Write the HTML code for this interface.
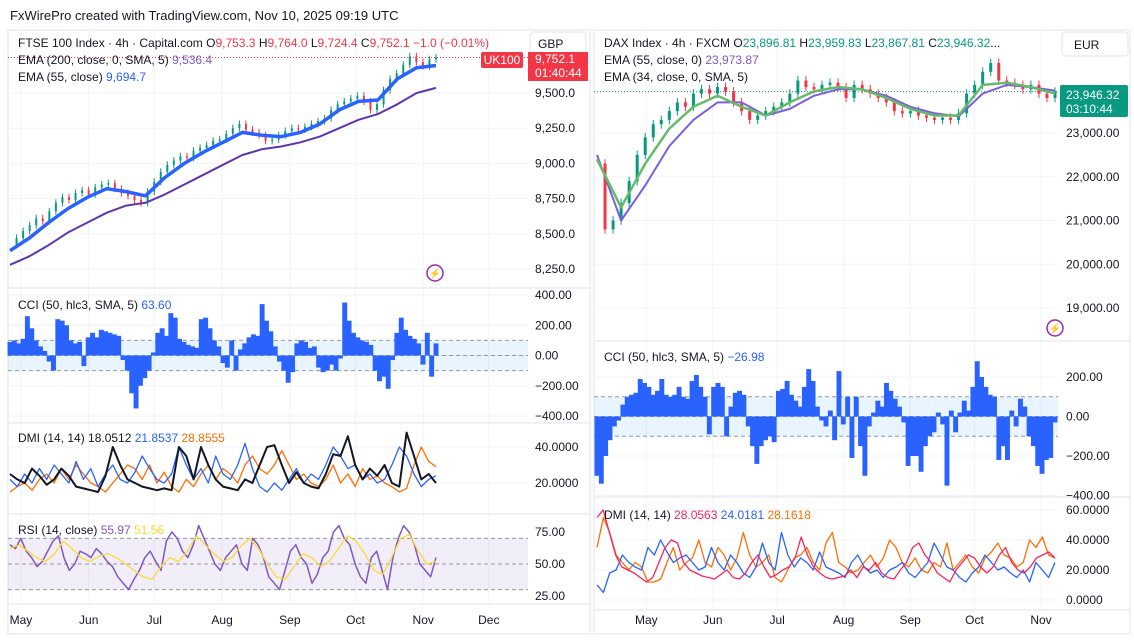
<!DOCTYPE html>
<html><head><meta charset="utf-8">
<style>
html,body{margin:0;padding:0;background:#fff;}
body{width:1134px;height:639px;overflow:hidden;font-family:"Liberation Sans",sans-serif;}
svg text{font-family:"Liberation Sans",sans-serif;}
</style></head>
<body>
<svg id="c" width="1134" height="639" viewBox="0 0 1134 639" xmlns="http://www.w3.org/2000/svg">
<rect x="0" y="0" width="1134" height="639" fill="#fff"/>
<text x="10" y="20" font-size="13" fill="#131722">FxWirePro created with TradingView.com, Nov 10, 2025 09:19 UTC</text>
<rect x="8" y="30" width="582" height="604" fill="none" stroke="#e0e3eb"/>
<rect x="594" y="30" width="536" height="604" fill="none" stroke="#e0e3eb"/>
<g id="grid"></g>
<g id="marks"></g>
<g id="labels"></g>
</svg>
<script>
// ---------- LEFT (FTSE) DATA ----------
const ftseClose = [8420,8470,8520,8560,8610,8590,8660,8720,8760,8740,8790,8810,8780,8830,8850,8860,8820,8790,8770,8740,8720,8800,8870,8940,8990,9020,9050,9040,9090,9110,9130,9160,9170,9210,9250,9280,9240,9220,9200,9160,9170,9200,9230,9250,9240,9260,9280,9300,9320,9380,9420,9440,9460,9480,9440,9380,9420,9520,9600,9640,9700,9760,9720,9690,9740,9752];
const ftseEma55 = [8380,8470,8580,8680,8760,8820,8800,8770,8900,9000,9080,9150,9220,9200,9190,9220,9280,9380,9440,9450,9600,9680,9695];
const ftseEma200 = [8280,8340,8420,8510,8580,8650,8700,8720,8780,8850,8920,8990,9060,9100,9120,9150,9190,9250,9310,9350,9420,9500,9536];
const ftseCci = [90,100,80,110,260,180,100,60,30,-40,-100,240,230,200,100,80,90,-70,120,150,120,170,160,150,140,130,-30,-100,-250,-350,-200,-150,-100,20,150,180,130,280,250,110,90,70,60,50,240,250,180,100,60,-50,-80,100,-100,40,80,120,140,130,340,230,160,60,-40,-100,-180,-110,80,100,90,50,60,-80,-110,-100,-60,-100,-20,350,230,150,120,100,90,70,-100,-170,-140,-220,-30,150,250,170,130,110,80,-60,150,-140,80];
const ftseAdx = [25,22,20,28,24,19,22,28,24,18,17,16,15,24,40,30,22,20,18,17,16,17,16,40,35,22,40,30,22,18,17,16,22,20,30,40,41,30,20,26,20,18,17,25,36,35,46,30,22,28,24,30,20,18,48,35,22,25,20];
const ftseDiPlus = [22,18,25,20,28,22,30,25,20,32,22,28,18,25,30,22,20,26,35,28,22,20,25,40,30,22,28,20,35,25,22,30,42,28,18,15,20,16,22,28,20,25,22,30,40,35,28,30,22,25,20,22,30,40,35,25,18,22,24];
const ftseDiMinus = [15,18,20,16,22,25,20,28,22,30,25,20,18,15,20,25,30,28,22,30,20,26,18,15,22,18,25,30,22,28,25,20,30,35,28,25,30,38,30,22,25,20,18,22,30,20,25,18,28,22,24,20,18,15,17,30,40,32,29];
const ftseRsi = [65,62,70,60,55,48,52,60,68,72,55,45,50,60,58,55,62,58,52,48,40,35,30,38,45,55,60,52,45,68,75,70,60,55,65,80,70,60,50,45,55,60,65,50,45,70,65,55,40,35,30,45,60,65,55,50,35,42,55,60,75,80,70,65,50,40,35,55,60,45,30,55,70,80,75,65,50,45,40,55];
const ftseRsiMa = [62,65,60,55,52,58,68,62,55,52,56,58,55,50,45,40,38,48,55,52,60,72,65,58,52,55,64,70,62,50,40,38,48,58,55,48,52,62,72,68,58,45,42,55,70,73,60,50,52];
const ftsePriceTicks = [9500,9250,9000,8750,8500,8250];
const ftseCciTicks = [400,200,0,-200,-400];
const ftseDmiTicks = [40,20];
const ftseRsiTicks = [75,50,25];
const leftMonths = ["May","Jun","Jul","Aug","Sep","Oct","Nov","Dec"];
const leftMonthDays = [5,36,66,97,128,158,189,219];

// ---------- RIGHT (DAX) DATA ----------
const daxClose = [22300,20800,21000,21400,21900,22500,22900,23200,23300,23500,23700,23600,23900,24000,23900,24050,23950,23700,23500,23300,23400,23500,23600,23700,23900,24200,24050,24000,24100,24150,24050,23800,24100,24000,23900,23800,23700,23500,23450,23500,23400,23350,23300,23350,23300,23450,23900,24100,24400,24600,24200,24150,24100,24000,24100,23900,23800,23946];
const daxEma34 = [22400,21300,22300,23100,23600,23850,23600,23400,23700,23950,24050,24000,23800,23550,23400,23400,24100,24150,24050,23900];
const daxEma55 = [22500,21000,21800,22700,23300,23700,23700,23400,23550,23850,24000,24000,23850,23600,23450,23380,23900,24100,24050,23970];
const daxCci = [-300,-340,-200,-120,-50,-20,60,100,110,120,190,170,150,110,130,190,110,100,110,150,100,90,180,210,150,100,-90,150,170,150,-100,50,120,130,110,-50,-150,-240,-150,-120,-100,-130,130,140,180,110,80,50,150,240,180,50,-20,-50,30,-120,230,-40,100,-210,100,-150,-300,-50,20,80,50,170,130,90,50,-30,-250,-200,-200,-280,-150,-100,-80,20,-40,-350,30,-80,20,80,30,150,280,200,150,110,100,-220,-150,-220,30,-50,90,50,-100,-150,-250,-290,-220,-210,-30];
const daxAdx = [55,60,45,30,22,20,18,15,12,15,25,35,40,38,25,20,18,16,15,14,17,20,15,14,18,25,30,22,15,17,20,22,28,42,30,22,18,15,14,15,16,20,15,22,20,25,18,15,14,20,25,35,38,30,25,18,15,12,20,25,30,28,22,18,22,30,35,25,20,18,22,28,30,32,28];
const daxDiPlus = [10,5,18,20,30,25,22,20,35,30,40,32,25,28,30,25,20,22,35,25,20,30,25,18,15,22,38,25,20,45,30,22,28,25,20,32,22,20,18,15,25,30,22,18,20,15,20,22,25,18,15,20,25,38,30,22,20,15,12,18,22,30,25,20,22,18,15,20,12,25,20,15,25];
const daxDiMinus = [35,55,45,30,25,20,25,22,12,12,14,25,35,20,25,28,40,25,22,35,30,20,28,45,30,22,25,30,15,12,20,28,30,35,25,20,38,45,25,22,18,20,25,30,22,28,40,35,25,22,28,20,18,25,22,38,20,25,30,22,18,28,32,38,30,28,22,25,40,35,42,30,28];
const daxPriceTicks = [23000,22000,21000,20000,19000];
const daxCciTicks = [200,0,-200,-400];
const daxDmiTicks = [60,40,20,0];
const rightMonths = ["May","Jun","Jul","Aug","Sep","Oct","Nov"];
const rightMonthDays = [23,54,84,115,146,176,207];

// ---------- AXES ----------
const NS = "http://www.w3.org/2000/svg";
const gGrid = document.getElementById('grid');
const gMarks = document.getElementById('marks');
const gLab = document.getElementById('labels');
function lin(d0,d1,r0,r1){return v=>r0+(v-d0)*(r1-r0)/(d1-d0);}
function mk(tag,attrs,parent){const e=document.createElementNS(NS,tag);for(const k in attrs)e.setAttribute(k,attrs[k]);(parent||gMarks).appendChild(e);return e;}
function txt(x,y,s,attrs,parent){const e=mk('text',Object.assign({x:x,y:y,'font-size':12,fill:'#131722'},attrs||{}),parent||gLab);e.textContent=s;return e;}

const LX0=10, LX1=436;
const lxDay = lin(0,220,10,491);
const lyP = lin(9500,8250,93,269);
const lyC = lin(400,-400,295,416);
const lyD = lin(40,20,447,483);
const lyR = lin(75,25,532,596);
const RX0=597, RX1=1055;
const rxDay = lin(0,207,597,1041);
const ryP = lin(23000,19000,133,308);
const ryC = lin(200,-200,377,456);
const ryD = lin(60,0,510,600);

function xs(n,a,b){return i=> a+(b-a)*i/(n-1);}
function poly(arr,xf,yf,color,w,name){
  const pts=arr.map((v,i)=>xf(i).toFixed(1)+','+yf(v).toFixed(1)).join(' ');
  const p=mk('polyline',{points:pts,fill:'none',stroke:color,'stroke-width':w,'stroke-linejoin':'round'});
  
  
  return p;
}
function hline(x0,x1,y,color,dash,name){
  const l=mk('line',{x1:x0,x2:x1,y1:y,y2:y,stroke:color,'stroke-width':1},gGrid);
  if(dash)l.setAttribute('stroke-dasharray',dash);
  
  
}
function vline(x,y0,y1,name){
  const l=mk('line',{x1:x,x2:x,y1:y0,y2:y1,stroke:'#f0f3fa','stroke-width':1},gGrid);
  
  
}

leftMonthDays.forEach((d,i)=>{vline(lxDay(d),30,604,'left-month-grid');});
rightMonthDays.forEach((d,i)=>{vline(rxDay(d),30,610,'right-month-grid');});
ftsePriceTicks.forEach(v=>hline(8,528,lyP(v),'#f0f3fa',null,'left-price-grid'));
ftseCciTicks.forEach(v=>hline(8,528,lyC(v),'#f0f3fa',null,'left-cci-grid'));
ftseDmiTicks.forEach(v=>hline(8,528,lyD(v),'#f0f3fa',null,'left-dmi-grid'));
daxPriceTicks.forEach(v=>hline(594,1058,ryP(v),'#f0f3fa',null,'right-price-grid'));
daxCciTicks.forEach(v=>hline(594,1058,ryC(v),'#f0f3fa',null,'right-cci-grid'));
daxDmiTicks.forEach(v=>hline(594,1058,ryD(v),'#f0f3fa',null,'right-dmi-grid'));
[288,423,514,604].forEach(y=>hline(8,590,y,'#e0e3eb',null,'left-pane-separator'));
[341,497,610].forEach(y=>hline(594,1130,y,'#e0e3eb',null,'right-pane-separator'));
let b=mk('rect',{x:8,y:lyC(100),width:520,height:lyC(-100)-lyC(100),fill:'rgba(33,150,243,0.1)'},gGrid);


b=mk('rect',{x:8,y:lyR(70),width:520,height:lyR(30)-lyR(70),fill:'rgba(126,87,194,0.1)'},gGrid);


b=mk('rect',{x:594,y:ryC(100),width:464,height:ryC(-100)-ryC(100),fill:'rgba(33,150,243,0.1)'},gGrid);


[100,0,-100].forEach(v=>hline(8,528,lyC(v),'#9598a1','4,3','left-cci-level'));
[70,50,30].forEach(v=>hline(8,528,lyR(v),'#9598a1','4,3','left-rsi-level'));
[100,0,-100].forEach(v=>hline(594,1058,ryC(v),'#9598a1','4,3','right-cci-level'));
hline(8,528,lyP(9752),'#f23645','1,2','left-last-price-line');
hline(594,1058,ryP(23946),'#089981','1,2','right-last-price-line');

function candles(arr,xf,yf,w,wick,name){
  for(let i=1;i<arr.length;i++){
    const o=arr[i-1],c=arr[i],up=c>=o,col=up?'#089981':'#f23645';
    const x=xf(i);
    const hi=Math.max(o,c)+wick, lo=Math.min(o,c)-wick;
    const l=mk('line',{x1:x,x2:x,y1:yf(hi),y2:yf(lo),stroke:col,'stroke-width':1});
    
    
    const y0=yf(Math.max(o,c)), y1=yf(Math.min(o,c));
    const r=mk('rect',{x:x-w/2,y:y0,width:w,height:Math.max(1,y1-y0),fill:col});
    
    
  }
}
const lxC = xs(ftseClose.length,LX0,LX1);
candles(ftseClose,lxC,lyP,2,25,'ftse-candle');
poly(ftseEma200,xs(ftseEma200.length,LX0,LX1),lyP,'#5e35b1',2,'ftse-ema200-line');
poly(ftseEma55,xs(ftseEma55.length,LX0,LX1),lyP,'#2962ff',3.5,'ftse-ema55-line');

const rxC = xs(daxClose.length,RX0,RX1);
candles(daxClose,rxC,ryP,3,100,'dax-candle');
poly(daxEma55,xs(daxEma55.length,RX0,RX1),ryP,'#7b5fe0',2,'dax-ema55-line');
poly(daxEma34,xs(daxEma34.length,RX0,RX1),ryP,'#66bb6a',2.5,'dax-ema34-line');

function hist(arr,x0,x1,yf,name){
  const xf=xs(arr.length,x0,x1), w=(x1-x0)/(arr.length-1)+0.6;
  arr.forEach((v,i)=>{
    const y0=yf(Math.max(v,0)), y1=yf(Math.min(v,0));
    const r=mk('rect',{x:xf(i)-w/2,y:y0,width:w,height:Math.max(0.5,y1-y0),fill:'#2962ff'});
    
    
  });
}
hist(ftseCci,LX0,LX1,lyC,'ftse-cci-bar');
hist(daxCci,RX0,RX1,ryC,'dax-cci-bar');

poly(ftseDiMinus,xs(ftseDiMinus.length,LX0,LX1),lyD,'#ff6d00',1.3,'ftse-di-minus-line');
poly(ftseDiPlus,xs(ftseDiPlus.length,LX0,LX1),lyD,'#2962ff',1.3,'ftse-di-plus-line');
poly(ftseAdx,xs(ftseAdx.length,LX0,LX1),lyD,'#131722',2,'ftse-adx-line');
poly(ftseRsi,xs(ftseRsi.length,LX0,LX1),lyR,'#7e57c2',1.5,'ftse-rsi-line');
poly(ftseRsiMa,xs(ftseRsiMa.length,LX0,LX1),lyR,'#fdd835',1.3,'ftse-rsi-ma-line');
poly(daxDiMinus,xs(daxDiMinus.length,RX0,RX1),ryD,'#ff6d00',1.3,'dax-di-minus-line');
poly(daxDiPlus,xs(daxDiPlus.length,RX0,RX1),ryD,'#2962ff',1.3,'dax-di-plus-line');
poly(daxAdx,xs(daxAdx.length,RX0,RX1),ryD,'#f7245f',1.3,'dax-adx-line');

function axLab(x,y,s,name){const t=txt(x,y+4,s,{'font-size':12});}
ftsePriceTicks.forEach(v=>axLab(535,lyP(v),v.toLocaleString('en-US',{minimumFractionDigits:1}),'left-price-tick'));
ftseCciTicks.forEach(v=>axLab(535,lyC(v),(v<0?'\u2212':'')+Math.abs(v).toFixed(2),'left-cci-tick'));
ftseDmiTicks.forEach(v=>axLab(535,lyD(v),v.toFixed(4),'left-dmi-tick'));
ftseRsiTicks.forEach(v=>axLab(535,lyR(v),v.toFixed(2),'left-rsi-tick'));
daxPriceTicks.forEach(v=>axLab(1066,ryP(v),v.toLocaleString('en-US',{minimumFractionDigits:2}),'right-price-tick'));
daxCciTicks.forEach(v=>axLab(1066,ryC(v),(v<0?'\u2212':'')+Math.abs(v).toFixed(2),'right-cci-tick'));
daxDmiTicks.forEach(v=>axLab(1066,ryD(v),v.toFixed(4),'right-dmi-tick'));
leftMonths.forEach((m,i)=>{const t=txt(lxDay(leftMonthDays[i]),624,m,{'text-anchor':'middle'});});
rightMonths.forEach((m,i)=>{const t=txt(rxDay(rightMonthDays[i]),624,m,{'text-anchor':'middle'});});
</script>
<svg width="1134" height="639" style="position:absolute;left:0;top:0" xmlns="http://www.w3.org/2000/svg">
<g font-size="12" fill="#131722">
<text x="18" y="47">FTSE 100 Index · 4h · Capital.com <tspan>O</tspan><tspan fill="#f23645">9,753.3</tspan> H<tspan fill="#f23645">9,764.0</tspan> L<tspan fill="#f23645">9,724.4</tspan> C<tspan fill="#f23645">9,752.1 −1.0 (−0.01%)</tspan></text>
<text x="18" y="64">EMA (200, close, 0, SMA, 5) <tspan fill="#7e57c2">9,536.4</tspan></text>
<text x="18" y="81">EMA (55, close) <tspan fill="#2962ff">9,694.7</tspan></text>
<text x="18" y="309">CCI (50, hlc3, SMA, 5) <tspan fill="#2962ff">63.60</tspan></text>
<text x="18" y="442">DMI (14, 14) 18.0512 <tspan fill="#2962ff">21.8537</tspan> <tspan fill="#ff6d00">28.8555</tspan></text>
<text x="18" y="534">RSI (14, close) <tspan fill="#7e57c2">55.97</tspan> <tspan fill="#fdd835">51.56</tspan></text>
<text x="604" y="47">DAX Index · 4h · FXCM O<tspan fill="#089981">23,896.81</tspan> H<tspan fill="#089981">23,959.83</tspan> L<tspan fill="#089981">23,867.81</tspan> C<tspan fill="#089981">23,946.32</tspan>...</text>
<text x="604" y="64">EMA (55, close, 0) <tspan fill="#7e57c2">23,973.87</tspan></text>
<text x="604" y="81">EMA (34, close, 0, SMA, 5)</text>
<text x="604" y="361">CCI (50, hlc3, SMA, 5) <tspan fill="#2962ff">−26.98</tspan></text>
<text x="604" y="519">DMI (14, 14) <tspan fill="#f7245f">28.0563</tspan> <tspan fill="#2962ff">24.0181</tspan> <tspan fill="#ff6d00">28.1618</tspan></text>
</g>
<g>
<rect x="530" y="32" width="56" height="24" rx="4" fill="#fff" stroke="#e0e3eb"/>
<text x="538" y="48" font-size="12" fill="#131722">GBP</text></g>
<g>
<rect x="1062" y="32" width="66" height="24" rx="4" fill="#fff" stroke="#e0e3eb"/>
<text x="1074" y="49" font-size="12" fill="#131722">EUR</text></g>
<g>
<rect x="481" y="52" width="42" height="16" rx="2" fill="#f23645"/>
<text x="502" y="64" font-size="12" fill="#fff" text-anchor="middle">UK100</text></g>
<g>
<rect x="528" y="52" width="60" height="29" fill="#f23645"/>
<text x="535" y="63" font-size="12" fill="#fff">9,752.1</text>
<text x="535" y="77" font-size="12" fill="#fff">01:40:44</text></g>
<g>
<rect x="1060" y="85" width="68" height="32" rx="2" fill="#089981"/>
<text x="1066" y="99" font-size="12" fill="#fff">23,946.32</text>
<text x="1066" y="113" font-size="12" fill="#fff">03:10:44</text></g>
<g>
<circle cx="435" cy="273" r="8" fill="none" stroke="#9c27b0" stroke-width="1.5"/>
<text x="435" y="277" font-size="10" fill="#9c27b0" text-anchor="middle">⚡</text></g>
<g>
<circle cx="1055" cy="328" r="8" fill="none" stroke="#9c27b0" stroke-width="1.5"/>
<text x="1055" y="332" font-size="10" fill="#9c27b0" text-anchor="middle">⚡</text></g>
</svg>
</body></html>
